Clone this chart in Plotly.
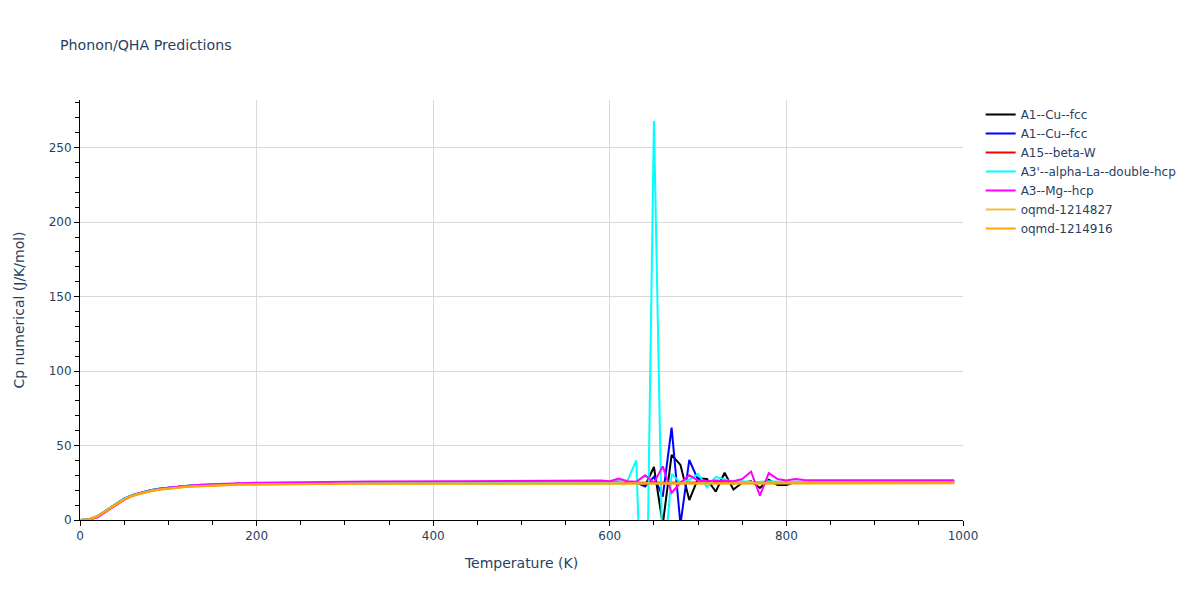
import plotly.graph_objects as go

temperature = list(range(0, 1000, 10))

cu_fcc_a = [0, 0.3, 2.6, 6.6, 10.7, 14.3, 16.9, 18.7, 20.0, 21.0, 21.7, 22.3, 22.8, 23.2, 23.5, 23.8, 24.0, 24.2, 24.3, 24.4, 24.5,
            24.6, 24.6, 24.7, 24.7, 24.8, 24.8, 24.9, 24.9, 24.9, 25.0,
            25.0, 25.0, 25.1, 25.1, 25.1, 25.1, 25.2, 25.2, 25.2, 25.2,
            25.3, 25.3, 25.3, 25.3, 25.3, 25.3, 25.3, 25.3, 25.3, 25.3,
            25.3, 25.4, 25.4, 25.4, 25.4, 25.5, 25.5, 25.5, 25.5, 25.5,
            25.6, 25.4, 25.0, 23.0, 35.6, -3.0, 43.7, 37.0, 13.4, 28.0,
            27.5, 19.0, 31.7, 20.5, 25.0, 26.0, 21.5, 27.0, 23.5, 23.5,
            25.5, 25.0, 25.6, 25.6, 25.6, 25.7, 25.7, 25.7, 25.7, 25.7,
            25.8, 25.8, 25.8, 25.8, 25.8, 25.8, 25.8, 25.8, 25.8]

cu_fcc_b = [0, 0.3, 2.6, 6.6, 10.7, 14.3, 16.9, 18.7, 20.0, 21.0, 21.7, 22.3, 22.8, 23.2, 23.5, 23.8, 24.0, 24.2, 24.3, 24.4, 24.5,
            24.6, 24.6, 24.7, 24.7, 24.8, 24.8, 24.9, 24.9, 24.9, 25.0,
            25.0, 25.0, 25.1, 25.1, 25.1, 25.1, 25.2, 25.2, 25.2, 25.2,
            25.3, 25.3, 25.3, 25.3, 25.3, 25.3, 25.3, 25.3, 25.3, 25.3,
            25.3, 25.4, 25.4, 25.4, 25.4, 25.5, 25.5, 25.5, 25.5, 25.5,
            25.6, 25.5, 25.3, 22.4, 29.0, 15.7, 62.0, -3.0, 40.3, 27.0,
            25.5, 26.0, 25.0, 24.5, 25.5, 25.5, 25.6, 25.6, 25.6, 25.6,
            25.7, 25.7, 25.7, 25.7, 25.7, 25.7, 25.7, 25.7, 25.7, 25.7,
            25.8, 25.8, 25.8, 25.8, 25.8, 25.8, 25.8, 25.8, 25.8]

beta_w = [0, 0.2, 2.3, 6.2, 10.3, 13.9, 16.5, 18.3, 19.7, 20.7, 21.4, 22.0, 22.5, 22.9, 23.2, 23.5, 23.7, 23.9, 24.0, 24.1, 24.2,
          24.3, 24.3, 24.4, 24.4, 24.4, 24.5, 24.5, 24.5, 24.6, 24.6,
          24.6, 24.6, 24.7, 24.7, 24.7, 24.7, 24.8, 24.8, 24.8, 24.8,
          24.9, 24.9, 24.9, 24.9, 24.9, 24.9, 24.9, 24.9, 24.9, 24.9,
          25.0, 25.0, 25.0, 25.0, 25.0, 25.0, 25.0, 25.0, 25.0, 25.0,
          25.0, 25.0, 25.0, 25.0, 25.0, 25.0, 25.0, 25.0, 25.0, 25.0,
          25.1, 25.1, 25.1, 25.1, 25.2, 25.5, 25.1, 25.1, 25.1, 25.1,
          25.2, 25.2, 25.2, 25.2, 25.2, 25.2, 25.2, 25.2, 25.2, 25.2,
          25.3, 25.3, 25.3, 25.3, 25.3, 25.3, 25.3, 25.3, 25.3]

la_dhcp = [0, 0.3, 2.6, 6.6, 10.7, 14.3, 16.9, 18.7, 20.0, 21.0, 21.7, 22.3, 22.8, 23.2, 23.5, 23.8, 24.0, 24.2, 24.3, 24.4, 24.5,
           24.6, 24.6, 24.7, 24.7, 24.8, 24.8, 24.9, 24.9, 24.9, 25.0,
           25.0, 25.0, 25.1, 25.1, 25.1, 25.1, 25.2, 25.2, 25.2, 25.2,
           25.3, 25.3, 25.3, 25.3, 25.3, 25.3, 25.3, 25.3, 25.3, 25.3,
           25.3, 25.4, 25.4, 25.4, 25.4, 25.5, 25.5, 25.5, 25.5, 25.5,
           25.5, 26.5, 40.0, -134.0, 268.0, -40.0, 31.0, 25.0, 27.0, 31.0,
           22.0, 29.0, 27.0, 25.5, 26.0, 25.5, 25.6, 26.0, 25.6, 25.6,
           25.7, 25.7, 25.7, 25.7, 25.7, 25.7, 25.7, 25.7, 25.7, 25.7,
           25.8, 25.8, 25.8, 25.8, 25.8, 25.8, 25.8, 25.8, 25.8]

mg_hcp = [0, 0.1, 1.8, 5.5, 9.7, 13.5, 16.3, 18.3, 19.8, 20.9, 21.7, 22.4, 22.9, 23.4, 23.8, 24.1, 24.4, 24.6, 24.8, 24.9, 25.0,
          25.1, 25.2, 25.3, 25.3, 25.4, 25.5, 25.5, 25.6, 25.6, 25.7,
          25.7, 25.8, 25.8, 25.8, 25.9, 25.9, 25.9, 26.0, 26.0, 26.0,
          26.1, 26.1, 26.1, 26.1, 26.2, 26.2, 26.2, 26.2, 26.3, 26.3,
          26.3, 26.3, 26.4, 26.4, 26.4, 26.5, 26.5, 26.6, 26.5, 26.0,
          27.8, 26.0, 25.7, 30.0, 25.0, 36.0, 18.3, 25.0, 30.0, 26.5,
          26.0, 26.5, 26.5, 26.0, 27.5, 32.5, 16.3, 31.5, 27.5, 26.5,
          27.5, 26.8, 26.7, 26.7, 26.7, 26.7, 26.7, 26.7, 26.7, 26.7,
          26.7, 26.7, 26.7, 26.7, 26.7, 26.7, 26.7, 26.7, 26.7]

oqmd_1214827 = [0, 0.3, 2.6, 6.5, 10.5, 14.0, 16.5, 18.2, 19.5, 20.5, 21.2, 21.8, 22.3, 22.7, 23.0, 23.3, 23.5, 23.7, 23.8, 23.9, 24.0,
                24.1, 24.1, 24.2, 24.2, 24.2, 24.3, 24.3, 24.3, 24.4, 24.4,
                24.4, 24.4, 24.5, 24.5, 24.5, 24.5, 24.5, 24.5, 24.6, 24.6,
                24.6, 24.6, 24.6, 24.6, 24.6, 24.6, 24.6, 24.6, 24.6, 24.6,
                24.7, 24.7, 24.7, 24.7, 24.7, 24.7, 24.7, 24.7, 24.7, 24.7,
                24.7, 24.7, 24.7, 24.7, 24.7, 24.7, 24.7, 24.7, 24.7, 24.7,
                24.8, 24.8, 24.8, 24.8, 24.8, 24.8, 24.8, 24.8, 24.8, 24.8,
                24.8, 24.8, 24.8, 24.8, 24.8, 24.8, 24.8, 24.8, 24.8, 24.8,
                24.9, 24.9, 24.9, 24.9, 24.9, 24.9, 24.9, 24.9, 24.9]

oqmd_1214916 = [0, 0.3, 2.5, 6.3, 10.3, 13.8, 16.3, 18.0, 19.3, 20.3, 21.0, 21.6, 22.1, 22.5, 22.8, 23.1, 23.3, 23.5, 23.6, 23.7, 23.8,
                23.9, 23.9, 24.0, 24.0, 24.0, 24.1, 24.1, 24.1, 24.2, 24.2,
                24.2, 24.2, 24.3, 24.3, 24.3, 24.3, 24.3, 24.3, 24.4, 24.4,
                24.4, 24.4, 24.4, 24.4, 24.4, 24.4, 24.4, 24.4, 24.4, 24.4,
                24.5, 24.5, 24.5, 24.5, 24.5, 24.5, 24.5, 24.5, 24.5, 24.5,
                24.5, 24.5, 24.5, 24.5, 24.5, 24.5, 24.5, 24.5, 24.5, 24.5,
                24.6, 24.6, 24.6, 24.6, 24.6, 24.6, 24.6, 24.6, 24.6, 24.6,
                24.6, 24.6, 24.6, 24.6, 24.6, 24.6, 24.6, 24.6, 24.6, 24.6,
                24.7, 24.7, 24.7, 24.7, 24.7, 24.7, 24.7, 24.7, 24.7]

series_names = ["A1--Cu--fcc", "A1--Cu--fcc", "A15--beta-W", "A3'--alpha-La--double-hcp",
                "A3--Mg--hcp", "oqmd-1214827", "oqmd-1214916"]
series_values = [cu_fcc_a, cu_fcc_b, beta_w, la_dhcp, mg_hcp, oqmd_1214827, oqmd_1214916]
series_colors = ["black", "blue", "red", "cyan", "magenta", "#f0c03c", "orange"]

fig = go.Figure()
for name, vals, color in zip(series_names, series_values, series_colors):
    fig.add_trace(go.Scatter(x=temperature, y=vals, mode="lines", name=name,
                             line=dict(color=color, width=2)))

axis_common = dict(showline=True, linecolor="black", linewidth=1, ticks="outside",
                   tickcolor="black", ticklen=5, gridcolor="#d9d9d9", zeroline=False,
                   showgrid=True)

fig.update_layout(
    template="plotly_white",
    width=1200, height=600,
    font=dict(family="DejaVu Sans"),
    title=dict(text="Phonon/QHA Predictions", x=52 / 1200, xanchor="left", y=1 - 37 / 600, yanchor="middle",
               font=dict(size=14.2)),
    margin=dict(l=72, r=245, t=92, b=88),
    plot_bgcolor="white",
    paper_bgcolor="white",
    legend=dict(x=1.02, y=1, xanchor="left", yanchor="top"),
    xaxis=dict(title=dict(text="Temperature (K)"), range=[0, 1000], dtick=200,
               minor=dict(dtick=50, ticks="outside", ticklen=4, tickcolor="black", showgrid=False),
               **axis_common),
    yaxis=dict(title=dict(text="Cp numerical (J/K/mol)", standoff=20), range=[0, 282], dtick=50,
               minor=dict(dtick=10, ticks="outside", ticklen=4, tickcolor="black", showgrid=False),
               **axis_common),
)

fig.write_html("out.html")
